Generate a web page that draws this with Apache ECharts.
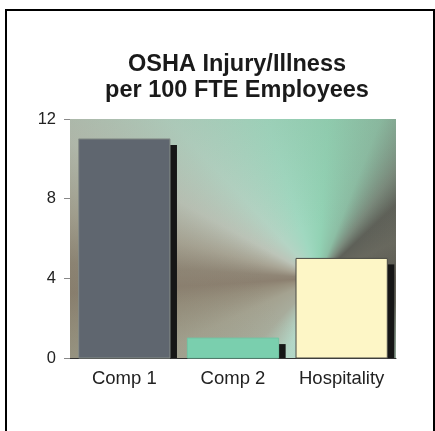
<!DOCTYPE html>
<html>
<head>
<meta charset="utf-8">
<script src="https://cdn.jsdelivr.net/npm/echarts@6/dist/echarts.min.js"></script>
<style>
  html, body { margin: 0; padding: 0; background: #fff; }
  #main { width: 435px; height: 431px; position: relative; }
  #frame {
    position: absolute; left: 5px; top: 9px; width: 426px; height: 440px;
    border: 2px solid #000; border-bottom: none; pointer-events: none;
  }
</style>
</head>
<body>
<div id="main"></div>
<div id="frame"></div>
<script>
// data
const categories = ["Comp 1", "Comp 2", "Hospitality"];
const rates = [11, 1, 5];
const yTicks = [0, 4, 8, 12];

const barColors = ["#5f666f", "#7acfae", "#fdf6c6"];
const barBorders = ["#858d88", "#70c4a4", "#4a4a44"];

// painted backdrop for the plot area (the swirl behind the bars)
function makeBackdrop() {
  const c = document.createElement("canvas");
  c.width = 435;
  c.height = 431;
  const ctx = c.getContext("2d");
  const cx = 318, cy = 278;
  const stops = [
    [0.00, "#5c5a52"],
    [0.05, "#64645a"],
    [0.15, "#9cb8a8"],
    [0.25, "#b8e0d0"],
    [0.31, "#b4d8c8"],
    [0.37, "#a8ac9c"],
    [0.43, "#a4a290"],
    [0.47, "#968e7c"],
    [0.49, "#8c8070"],
    [0.51, "#908676"],
    [0.54, "#a8a494"],
    [0.58, "#bcc4b8"],
    [0.63, "#b4d4c4"],
    [0.70, "#a0d8c0"],
    [0.76, "#92d2b4"],
    [0.81, "#8cbea4"],
    [0.85, "#7a8a7c"],
    [0.88, "#5e6058"],
    [0.93, "#68685e"],
    [1.00, "#5c5a52"]
  ];
  if (ctx.createConicGradient) {
    const g = ctx.createConicGradient(0, cx, cy);
    stops.forEach(s => g.addColorStop(s[0], s[1]));
    ctx.fillStyle = g;
  } else {
    ctx.fillStyle = "#a8c0b0";
  }
  ctx.fillRect(0, 0, c.width, c.height);
  // soften towards the edges
  const r = ctx.createRadialGradient(cx, cy, 50, cx, cy, 290);
  r.addColorStop(0, "rgba(110,115,95,0)");
  r.addColorStop(1, "rgba(110,115,95,0.18)");
  ctx.fillStyle = r;
  ctx.fillRect(0, 0, c.width, c.height);
  return c;
}

const myChart = echarts.init(document.getElementById("main"), null, { renderer: "canvas" });

const option = {
  animation: false,
  title: {
    text: "OSHA Injury/Illness\nper 100 FTE Employees",
    left: 232,
    top: 47,
    textAlign: "center",
    textStyle: {
      fontFamily: "Liberation Sans, Arial, sans-serif",
      fontSize: 23.5,
      fontWeight: "bold",
      color: "#1a1a1a",
      lineHeight: 26
    }
  },
  grid: {
    left: 70,
    right: 39,
    top: 119,
    bottom: 73,
    show: true,
    borderWidth: 0,
    backgroundColor: { image: makeBackdrop(), repeat: "no-repeat" }
  },
  xAxis: {
    type: "category",
    data: categories,
    axisLine: { lineStyle: { color: "#333", width: 1 } },
    axisTick: { show: false },
    axisLabel: {
      interval: 0,
      hideOverlap: false,
      margin: 11,
      fontFamily: "Liberation Sans, Arial, sans-serif",
      fontSize: 18.5,
      color: "#222"
    }
  },
  yAxis: {
    type: "value",
    min: yTicks[0],
    max: yTicks[yTicks.length - 1],
    interval: yTicks[1] - yTicks[0],
    axisLine: { show: false },
    axisTick: { show: true, length: 6, lineStyle: { color: "#888" } },
    splitLine: { show: false },
    axisLabel: {
      margin: 14,
      fontFamily: "Liberation Sans, Arial, sans-serif",
      fontSize: 16.5,
      color: "#222"
    }
  },
  series: [
    {
      type: "custom",
      data: rates.map((v, i) => [i, v]),
      encode: { x: 0, y: 1 },
      renderItem: function (params, api) {
        const i = api.value(0);
        const top = api.coord([i, api.value(1)]);
        const base = api.coord([i, 0]);
        const w = api.size([1, 0])[0] * 0.84;
        const x0 = top[0] - w / 2;
        return {
          type: "group",
          children: [
            {
              type: "rect",
              shape: { x: x0 + w, y: top[1] + 6, width: 7, height: base[1] - top[1] - 6 },
              style: { fill: "#161616" }
            },
            {
              type: "rect",
              shape: { x: x0, y: top[1], width: w, height: base[1] - top[1] },
              style: { fill: barColors[i], stroke: barBorders[i], lineWidth: 1 }
            }
          ]
        };
      }
    }
  ]
};

myChart.setOption(option);
</script>
</body>
</html>
